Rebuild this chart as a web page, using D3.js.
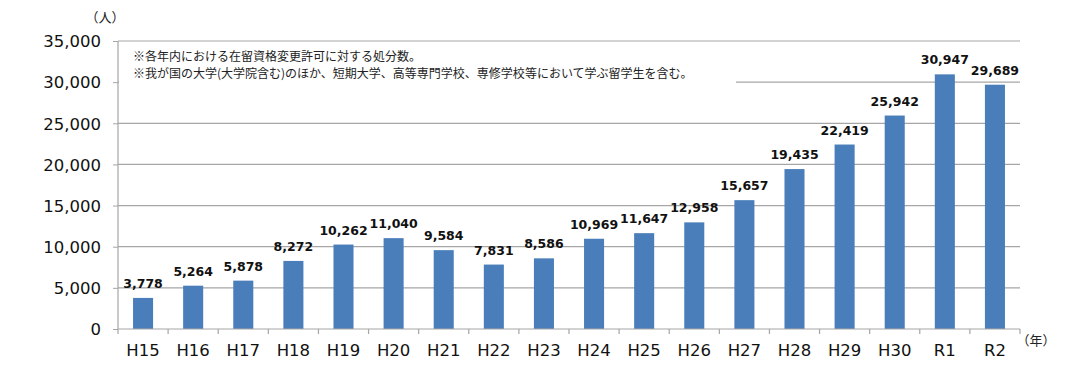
<!DOCTYPE html>
<html><head><meta charset="utf-8">
<script src="https://cdn.jsdelivr.net/npm/d3@7"></script>
<style>body{margin:0;background:#fff}svg{display:block}</style>
</head><body>
<svg id="c" width="1080" height="369"></svg>
<script>
const categories = ["H15","H16","H17","H18","H19","H20","H21","H22","H23","H24","H25","H26","H27","H28","H29","H30","R1","R2"];
const values = [3778,5264,5878,8272,10262,11040,9584,7831,8586,10969,11647,12958,15657,19435,22419,25942,30947,29689];
const yTicks = [0,5000,10000,15000,20000,25000,30000,35000];
const notes = ["※各年内における在留資格変更許可に対する処分数。","※我が国の大学(大学院含む)のほか、短期大学、高等専門学校、専修学校等において学ぶ留学生を含む。"];

const svg = d3.select("#c");
const L = 118, R = 1020, T = 41, B = 329;
const x = d3.scaleBand().domain(categories).range([L, R]).paddingInner(0.6).paddingOuter(0.3);
const y = d3.scaleLinear().domain([0, 35000]).range([B, T]);
const font = "'DejaVu Sans', Verdana, sans-serif";
const jp = "'Noto Sans CJK JP', sans-serif";

// gridlines
svg.append("g").selectAll("line").data(yTicks.filter(d => d > 0)).join("line")
  .attr("x1", L).attr("x2", R).attr("y1", d => y(d)).attr("y2", d => y(d))
  .attr("stroke", "#a6a6a6").attr("stroke-width", 1.2);

// note box covers part of gridline
svg.append("rect").attr("x", L + 1).attr("y", 46).attr("width", 617).attr("height", 40).attr("fill", "#fff");
svg.append("g").selectAll("text").data(notes).join("text")
  .attr("x", 133).attr("y", (d, i) => 61 + i * 17)
  .attr("font-family", jp).attr("font-size", 12).attr("fill", "#222").text(d => d);

// bars
svg.append("g").selectAll("rect").data(values).join("rect")
  .attr("x", (d, i) => x(categories[i])).attr("width", x.bandwidth())
  .attr("y", d => y(d)).attr("height", d => B - y(d))
  .attr("fill", "#4a7ebb");

// value labels
svg.append("g").selectAll("text").data(values).join("text")
  .attr("x", (d, i) => x(categories[i]) + x.bandwidth() / 2)
  .attr("y", d => y(d) - 10)
  .attr("text-anchor", "middle").attr("font-family", font).attr("font-weight", "bold")
  .attr("font-size", 12.5).attr("fill", "#111").text(d => d3.format(",")(d));

// y axis
const ya = svg.append("g").attr("transform", `translate(${L},0)`)
  .call(d3.axisLeft(y).tickValues(yTicks).tickFormat(d3.format(",")).tickSize(5).tickPadding(12));
ya.select(".domain").attr("stroke", "#a6a6a6").attr("stroke-width", 1.2).attr("d", `M0,${T}V${B}`);
ya.selectAll(".tick line").attr("stroke", "#a6a6a6");
ya.selectAll("text").attr("font-family", font).attr("font-size", 16.5).attr("fill", "#111").attr("dy", "0.35em");

// x axis
const xa = svg.append("g").attr("transform", `translate(0,${B})`)
  .call(d3.axisBottom(x).tickSize(0).tickPadding(15));
xa.select(".domain").attr("stroke", "#a6a6a6").attr("stroke-width", 1.2).attr("d", `M${L},0H${R}`);
xa.selectAll("text").attr("font-family", font).attr("font-size", 16.5).attr("fill", "#111");
// category boundary ticks
svg.append("g").selectAll("line").data(d3.range(categories.length + 1)).join("line")
  .attr("x1", i => L + i * (R - L) / categories.length).attr("x2", i => L + i * (R - L) / categories.length)
  .attr("y1", B).attr("y2", B + 5).attr("stroke", "#a6a6a6").attr("stroke-width", 1.2);

// unit labels
svg.append("text").attr("x", 105).attr("y", 22).attr("text-anchor", "middle")
  .attr("font-family", jp).attr("font-size", 13).attr("fill", "#222").text("（人）");
svg.append("text").attr("x", 1036).attr("y", 345).attr("text-anchor", "middle")
  .attr("font-family", jp).attr("font-size", 13).attr("fill", "#222").text("（年）");
</script>
</body></html>
